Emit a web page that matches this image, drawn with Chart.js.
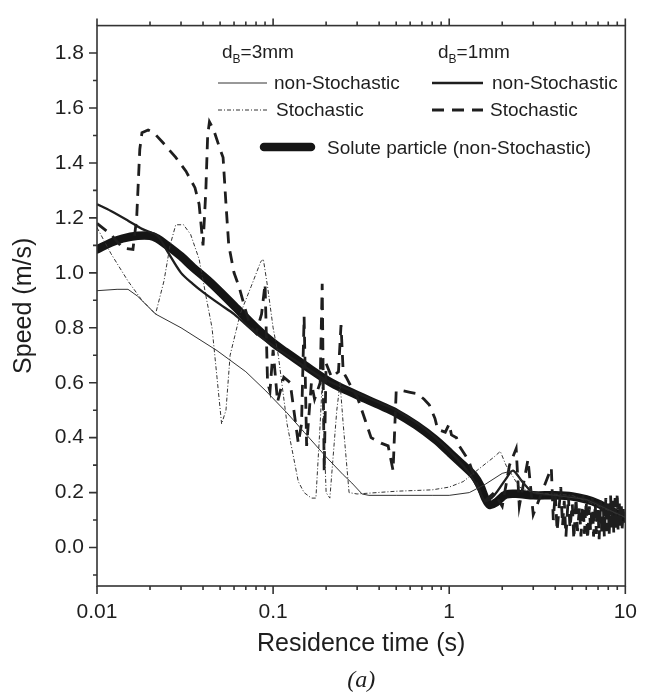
<!DOCTYPE html>
<html>
<head>
<meta charset="utf-8">
<script src="https://cdn.jsdelivr.net/npm/chart.js@4.4.1/dist/chart.umd.min.js"></script>
<style>
  html, body { margin: 0; padding: 0; background: #fff; }
</style>
</head>
<body>
<canvas id="chart" width="651" height="696"></canvas>
<script>
// axis ticks
const xMajorTicks = [0.01, 0.1, 1, 10];
const xTickLabels = ['0.01', '0.1', '1', '10'];
const yMajorTicks = [0.0, 0.2, 0.4, 0.6, 0.8, 1.0, 1.2, 1.4, 1.6, 1.8];
const yTickLabels = ['0.0', '0.2', '0.4', '0.6', '0.8', '1.0', '1.2', '1.4', '1.6', '1.8'];

// series, [residence time (s), speed (m/s)]
const solute = [[0.01,1.085],[0.012,1.11],[0.014,1.125],[0.017,1.135],[0.02,1.135],[0.022,1.125],[0.025,1.1],
  [0.03,1.06],[0.035,1.02],[0.044,0.965],[0.06,0.88],[0.08,0.8],[0.1,0.745],[0.118,0.712],[0.15,0.665],
  [0.214,0.6],[0.3,0.555],[0.4,0.519],[0.5,0.49],[0.65,0.445],[0.83,0.394],[1.0,0.347],[1.2,0.3],
  [1.38,0.262],[1.5,0.225],[1.6,0.18],[1.7,0.155],[1.85,0.165],[2.1,0.193],[2.5,0.195],[3,0.19],[4,0.19],
  [5,0.186],[6,0.175],[7,0.16],[8,0.14],[9,0.122],[10,0.105]];

const nonStoch1mm = [[0.01,1.25],[0.012,1.225],[0.015,1.19],[0.018,1.16],[0.022,1.135],[0.025,1.08],[0.03,1.0],
  [0.035,0.96],[0.04,0.93],[0.05,0.885],[0.06,0.85],[0.08,0.78],[0.1,0.735],[0.15,0.66],[0.2,0.61],
  [0.3,0.562],[0.4,0.527],[0.5,0.5],[0.7,0.44],[1.0,0.352],[1.3,0.27],[1.5,0.2],[1.6,0.17],[1.8,0.19],
  [2.1,0.25],[2.3,0.28],[2.6,0.24],[3,0.2],[4,0.19],[5,0.185],[7,0.16],[10,0.11]];

const stoch1mm = [[0.01,1.18],[0.012,1.14],[0.014,1.09],[0.016,1.085],[0.0168,1.2],[0.0175,1.45],[0.018,1.51],
  [0.0195,1.52],[0.021,1.51],[0.024,1.47],[0.028,1.42],[0.032,1.37],[0.036,1.31],[0.038,1.25],[0.04,1.1],
  [0.0415,1.3],[0.0425,1.5],[0.0435,1.55],[0.046,1.52],[0.05,1.45],[0.052,1.42],[0.054,1.25],[0.056,1.1],
  [0.06,1.0],[0.064,0.95],[0.07,0.86],[0.075,0.8],[0.08,0.78],[0.086,0.85],[0.09,0.96],[0.093,0.6],
  [0.096,0.57],[0.1,0.72],[0.106,0.53],[0.115,0.62],[0.125,0.6],[0.139,0.38],[0.145,0.45],[0.15,0.84],
  [0.155,0.37],[0.165,0.6],[0.172,0.54],[0.185,0.6],[0.19,0.96],[0.195,0.28],[0.2,0.67],[0.215,0.62],
  [0.235,0.64],[0.243,0.81],[0.25,0.64],[0.26,0.62],[0.28,0.58],[0.3,0.55],[0.335,0.46],[0.36,0.4],
  [0.41,0.38],[0.45,0.37],[0.48,0.28],[0.5,0.57],[0.55,0.57],[0.6,0.565],[0.66,0.56],[0.72,0.54],
  [0.77,0.52],[0.83,0.47],[0.86,0.43],[0.95,0.42],[1.0,0.45],[1.03,0.41],[1.1,0.4],[1.14,0.37],
  [1.25,0.33],[1.3,0.31],[1.4,0.25],[1.5,0.2],[1.6,0.17],[1.8,0.2],[2.0,0.15],[2.2,0.3],[2.4,0.36],
  [2.5,0.15],[2.8,0.32],[3.0,0.12],[3.4,0.21],[3.8,0.29],[3.9,0.1],[4.0,0.2],[4.1,0.06],[4.3,0.22],
  [4.4,0.08],[4.5,0.17],[4.6,0.04],[4.75,0.19],[4.85,0.07],[5.0,0.16],[5.1,0.03],[5.25,0.18],[5.35,0.06],
  [5.5,0.15],[5.6,0.04],[5.75,0.19],[5.85,0.05],[6.0,0.17],[6.1,0.03],[6.25,0.15],[6.35,0.06],[6.5,0.18],
  [6.6,0.04],[6.75,0.16],[6.85,0.05],[7.0,0.14],[7.1,0.03],[7.25,0.17],[7.35,0.05],[7.5,0.15],[7.6,0.04],
  [7.75,0.18],[7.85,0.06],[8.0,0.16],[8.1,0.05],[8.25,0.19],[8.35,0.07],[8.5,0.17],[8.6,0.05],[8.75,0.18],
  [8.85,0.07],[9.0,0.2],[9.1,0.06],[9.25,0.16],[9.35,0.08],[9.5,0.15],[9.6,0.07],[9.75,0.14],[9.85,0.09],
  [10,0.1]];

const nonStoch3mm = [[0.01,0.935],[0.013,0.94],[0.015,0.94],[0.017,0.915],[0.0215,0.85],[0.03,0.8],[0.048,0.717],
  [0.07,0.64],[0.091,0.57],[0.12,0.49],[0.15,0.42],[0.2,0.33],[0.25,0.265],[0.28,0.235],[0.32,0.195],
  [0.35,0.19],[0.5,0.19],[0.8,0.19],[1.0,0.19],[1.3,0.2],[1.6,0.23],[2.0,0.27],[2.3,0.28],[2.6,0.24],
  [3,0.2],[4,0.19],[6,0.175],[10,0.11]];

const stoch3mm = [[0.01,1.165],[0.012,1.07],[0.015,0.97],[0.018,0.9],[0.0215,0.85],[0.024,0.97],[0.026,1.1],
  [0.028,1.175],[0.031,1.175],[0.034,1.14],[0.038,1.05],[0.042,0.9],[0.045,0.8],[0.048,0.62],[0.051,0.45],
  [0.054,0.5],[0.057,0.7],[0.065,0.85],[0.075,0.95],[0.085,1.04],[0.088,1.05],[0.093,0.95],[0.1,0.8],
  [0.107,0.7],[0.12,0.45],[0.139,0.24],[0.15,0.2],[0.165,0.18],[0.175,0.18],[0.185,0.45],[0.19,0.6],
  [0.195,0.4],[0.2,0.2],[0.21,0.18],[0.23,0.5],[0.24,0.6],[0.25,0.45],[0.27,0.2],[0.3,0.195],[0.5,0.205],
  [0.8,0.21],[1.0,0.22],[1.2,0.24],[1.5,0.29],[1.8,0.33],[1.95,0.35],[2.1,0.3],[2.5,0.22],[3,0.2],
  [5,0.19],[10,0.11]];

const FONT = "'Liberation Sans', Arial, sans-serif";
const INK = '#1e1e1e';

const toXY = arr => arr.map(p => ({x: p[0], y: p[1]}));

const datasets = [
  {label: 'dB=3mm non-Stochastic', data: toXY(nonStoch3mm), borderColor: '#333', borderWidth: 1, tension: 0},
  {label: 'dB=3mm Stochastic', data: toXY(stoch3mm), borderColor: '#333', borderWidth: 1,
    borderDash: [4, 2, 1, 2], tension: 0},
  {label: 'dB=1mm Stochastic', data: toXY(stoch1mm), borderColor: INK, borderWidth: 2.8,
    borderDash: [12, 8], tension: 0},
  {label: 'dB=1mm non-Stochastic', data: toXY(nonStoch1mm), borderColor: INK, borderWidth: 2.3, tension: 0.3},
  {label: 'Solute particle (non-Stochastic)', data: toXY(solute), borderColor: '#151515', borderWidth: 8.5,
    borderCapStyle: 'round', borderJoinStyle: 'round', tension: 0.35}
];
datasets.forEach(d => { d.pointRadius = 0; d.fill = false; });

// frame and Origin-style outward ticks
const frameTicks = {
  id: 'frameTicks',
  afterDatasetsDraw(chart) {
    const {ctx, chartArea: a, scales: {x, y}} = chart;
    ctx.save();
    ctx.strokeStyle = '#333';
    ctx.lineWidth = 1.6;
    ctx.strokeRect(a.left, a.top, a.right - a.left, a.bottom - a.top);
    ctx.beginPath();
    const xMinor = [];
    xMajorTicks.slice(0, -1).forEach(d => { for (let k = 2; k <= 9; k++) xMinor.push(d * k); });
    xMajorTicks.forEach(v => {
      const px = x.getPixelForValue(v);
      ctx.moveTo(px, a.bottom); ctx.lineTo(px, a.bottom + 8);
      ctx.moveTo(px, a.top); ctx.lineTo(px, a.top - 7);
    });
    xMinor.forEach(v => {
      const px = x.getPixelForValue(v);
      ctx.moveTo(px, a.bottom); ctx.lineTo(px, a.bottom + 4);
      ctx.moveTo(px, a.top); ctx.lineTo(px, a.top - 4);
    });
    yMajorTicks.forEach(v => {
      const py = y.getPixelForValue(v);
      ctx.moveTo(a.left, py); ctx.lineTo(a.left - 8, py);
    });
    yMajorTicks.forEach(v => {
      [v - 0.1, v + 0.1].forEach(m => {
        if (m > y.min && m <= y.max) {
          const py = y.getPixelForValue(m);
          ctx.moveTo(a.left, py); ctx.lineTo(a.left - 4, py);
        }
      });
    });
    ctx.stroke();

    // panel tag
    ctx.fillStyle = INK;
    ctx.font = "italic 24px 'Liberation Serif', 'DejaVu Serif', serif";
    ctx.textAlign = 'center';
    ctx.textBaseline = 'middle';
    ctx.fillText('(a)', (a.left + a.right) / 2, 681);
    ctx.restore();
  }
};

// in-plot legend laid out like the original figure
const plotLegend = {
  id: 'plotLegend',
  afterDraw(chart) {
    const ctx = chart.ctx;
    const ds = chart.data.datasets;
    ctx.save();
    ctx.fillStyle = INK;
    ctx.textBaseline = 'alphabetic';
    ctx.textAlign = 'left';
    const head = (x0, size) => {
      ctx.font = '19px ' + FONT;
      ctx.fillText('d', x0, 58);
      const w = ctx.measureText('d').width;
      ctx.font = '12px ' + FONT;
      ctx.fillText('B', x0 + w, 63);
      const wb = ctx.measureText('B').width;
      ctx.font = '19px ' + FONT;
      ctx.fillText('=' + size, x0 + w + wb, 58);
    };
    head(222, '3mm');
    head(438, '1mm');
    const sample = (d, x0, x1, yy) => {
      ctx.beginPath();
      ctx.strokeStyle = d.borderColor;
      ctx.lineWidth = d.borderWidth;
      ctx.lineCap = d.borderCapStyle || 'butt';
      ctx.setLineDash(d.borderDash || []);
      ctx.moveTo(x0, yy); ctx.lineTo(x1, yy);
      ctx.stroke();
      ctx.setLineDash([]);
      ctx.lineCap = 'butt';
    };
    sample(ds[0], 218, 267, 83);
    sample(ds[1], 218, 267, 110);
    sample(ds[3], 432, 483, 83);
    sample(ds[2], 432, 483, 110);
    sample(ds[4], 264, 311, 147);
    ctx.font = '19px ' + FONT;
    ctx.fillText('non-Stochastic', 274, 89);
    ctx.fillText('Stochastic', 276, 116);
    ctx.fillText('non-Stochastic', 492, 89);
    ctx.fillText('Stochastic', 490, 116);
    ctx.fillText('Solute particle (non-Stochastic)', 327, 154);
    ctx.restore();
  }
};

new Chart(document.getElementById('chart').getContext('2d'), {
  type: 'line',
  data: {datasets: datasets},
  options: {
    responsive: false,
    animation: false,
    layout: {padding: {top: 17, right: 13, bottom: 0, left: 0}},
    plugins: {legend: {display: false}, tooltip: {enabled: false}},
    scales: {
      x: {
        type: 'logarithmic',
        min: 0.01,
        max: 10,
        grid: {display: false, drawTicks: false},
        border: {display: false},
        afterBuildTicks: s => { s.ticks = xMajorTicks.map(v => ({value: v})); },
        afterFit: s => { s.height = 110; },
        ticks: {
          autoSkip: false, maxRotation: 0, padding: 14, color: INK,
          font: {family: FONT, size: 21},
          callback: (v, i) => xTickLabels[i]
        },
        title: {display: true, text: 'Residence time (s)', color: INK,
          font: {family: FONT, size: 25}, padding: {top: 0, bottom: 37}}
      },
      y: {
        type: 'linear',
        min: -0.14,
        max: 1.9,
        grid: {display: false, drawTicks: false},
        border: {display: false},
        afterBuildTicks: s => { s.ticks = yMajorTicks.map(v => ({value: v})); },
        afterFit: s => { s.width = 97; },
        ticks: {
          autoSkip: false, padding: 13, color: INK,
          font: {family: FONT, size: 21},
          callback: (v, i) => yTickLabels[i]
        },
        title: {display: true, text: 'Speed (m/s)', color: INK,
          font: {family: FONT, size: 25}, padding: {top: 9, bottom: 0}}
      }
    }
  },
  plugins: [frameTicks, plotLegend]
});
</script>
</body>
</html>
